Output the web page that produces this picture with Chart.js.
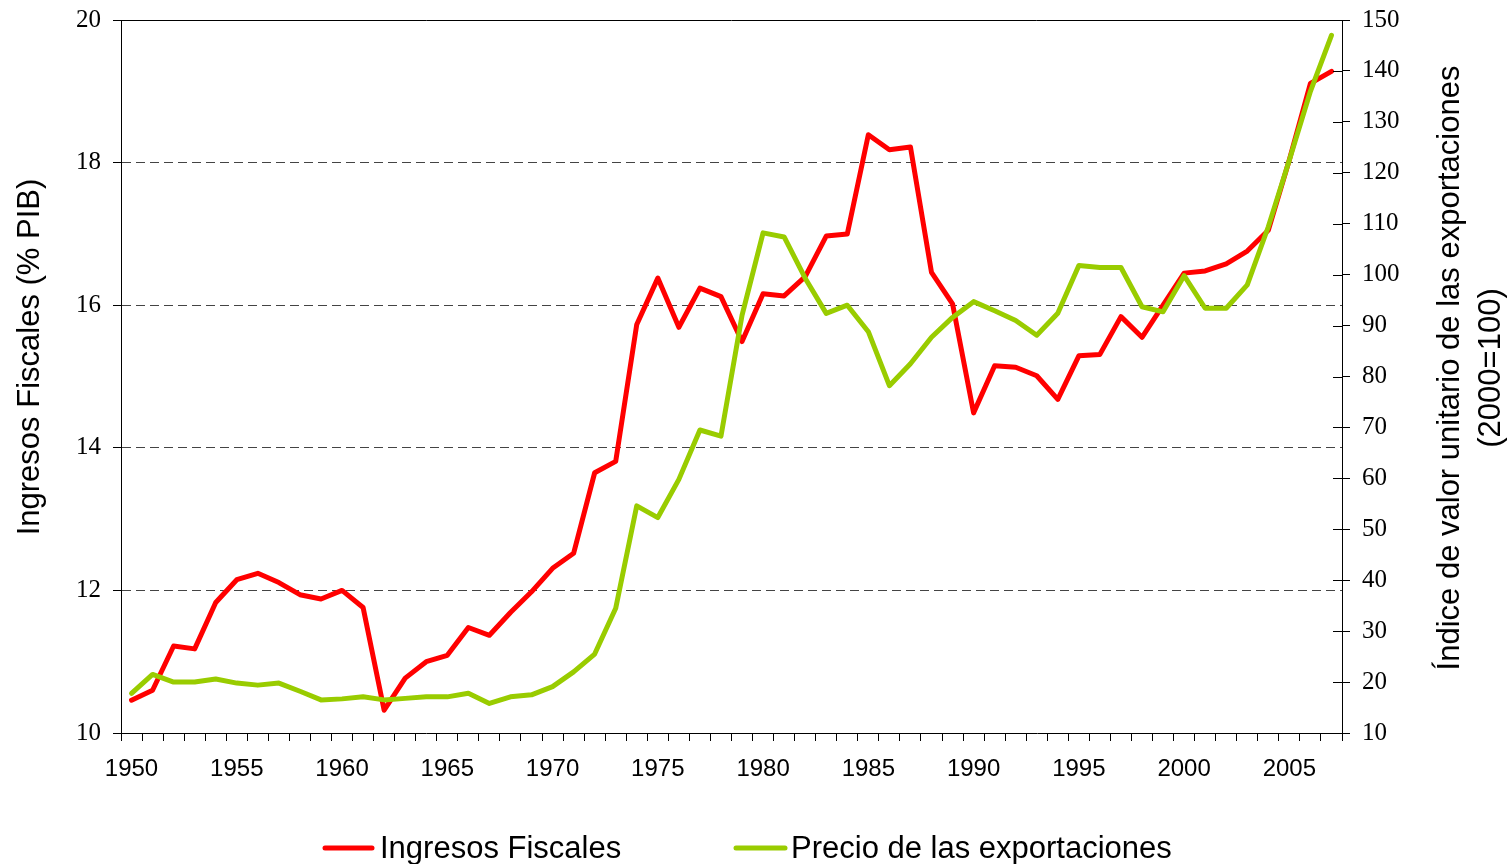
<!DOCTYPE html>
<html>
<head>
<meta charset="utf-8">
<script src="https://cdn.jsdelivr.net/npm/chart.js@4/dist/chart.umd.min.js"></script>
<style>
  html, body { margin: 0; padding: 0; background: #fff; }
  #wrap { width: 1511px; height: 864px; }
</style>
</head>
<body>
<div id="wrap"><canvas id="chart" width="1511" height="864"></canvas></div>
<script>
// 数据
const years = [1950, 1951, 1952, 1953, 1954, 1955, 1956, 1957, 1958, 1959,
    1960, 1961, 1962, 1963, 1964, 1965, 1966, 1967, 1968, 1969,
    1970, 1971, 1972, 1973, 1974, 1975, 1976, 1977, 1978, 1979,
    1980, 1981, 1982, 1983, 1984, 1985, 1986, 1987, 1988, 1989,
    1990, 1991, 1992, 1993, 1994, 1995, 1996, 1997, 1998, 1999,
    2000, 2001, 2002, 2003, 2004, 2005, 2006, 2007];

const ingresosFiscales = [10.46, 10.60, 11.22, 11.18, 11.83, 12.15, 12.24, 12.11, 11.94, 11.88,
    12.00, 11.76, 10.32, 10.77, 11.00, 11.09, 11.48, 11.37, 11.69, 11.98,
    12.31, 12.52, 13.65, 13.81, 15.73, 16.38, 15.69, 16.24, 16.12, 15.49,
    16.16, 16.13, 16.40, 16.97, 17.00, 18.39, 18.18, 18.22, 16.46, 16.02,
    14.49, 15.15, 15.13, 15.01, 14.68, 15.29, 15.31, 15.84, 15.55, 16.00,
    16.45, 16.48, 16.58, 16.76, 17.05, 18.04, 19.11, 19.28];

const precioExportaciones = [17.8, 21.5, 20.0, 20.0, 20.6, 19.8, 19.4, 19.8, 18.2, 16.5,
    16.7, 17.1, 16.5, 16.8, 17.1, 17.1, 17.8, 15.8, 17.1, 17.5,
    19.1, 22.0, 25.5, 34.5, 54.6, 52.3, 59.8, 69.5, 68.3, 92.0,
    108.2, 107.4, 99.3, 92.4, 94.0, 88.8, 78.2, 82.5, 87.7, 91.6,
    94.7, 92.9, 91.0, 88.1, 92.4, 101.8, 101.4, 101.4, 93.7, 92.7,
    99.8, 93.4, 93.4, 98.0, 109.4, 122.5, 136.0, 147.0];

const leftTicks = { min: 10, max: 20, step: 2 };
const rightTicks = { min: 10, max: 150, step: 10 };

const leftTitle = 'Ingresos Fiscales (% PIB)';
const rightTitle = ['Índice de valor unitario de las exportaciones', '(2000=100)'];

const sansFont = '"Liberation Sans", Arial, sans-serif';
const serifFont = '"Liberation Serif", "Times New Roman", serif';

// 固定坐标轴尺寸，去掉标签溢出的额外边距
function fixSize(prop, size) {
    return s => {
        s[prop] = size;
        s.paddingTop = 0;
        s.paddingBottom = 0;
        s.paddingLeft = 0;
        s.paddingRight = 0;
    };
}

// 标题、图例和边框
const extras = {
    id: 'extras',
    afterDraw(chart) {
        const { ctx, chartArea: a, scales } = chart;
        ctx.save();

        // 顶部边框
        ctx.strokeStyle = '#000';
        ctx.lineWidth = 1;
        ctx.beginPath();
        ctx.moveTo(a.left, a.top + 0.5);
        ctx.lineTo(a.right, a.top + 0.5);
        // 右轴内侧刻度
        scales.y2.ticks.forEach(t => {
            const y = Math.round(scales.y2.getPixelForValue(t.value)) + 0.5;
            ctx.moveTo(a.right - 9, y);
            ctx.lineTo(a.right, y);
        });
        ctx.stroke();

        // 轴标题
        ctx.fillStyle = '#000';
        ctx.font = '31px ' + sansFont;
        ctx.textAlign = 'center';
        ctx.textBaseline = 'middle';
        ctx.save();
        ctx.translate(30, 357);
        ctx.rotate(-Math.PI / 2);
        ctx.fillText(leftTitle, 0, 0);
        ctx.restore();
        rightTitle.forEach((line, i) => {
            ctx.save();
            ctx.translate(1450 + i * 41, 368);
            ctx.rotate(-Math.PI / 2);
            ctx.fillText(line, 0, 0);
            ctx.restore();
        });

        // 图例
        const legendY = 848;
        const items = [
            { x: 325, w: 47, tx: 380 },
            { x: 736, w: 49, tx: 791 }
        ];
        ctx.textAlign = 'left';
        chart.data.datasets.forEach((ds, i) => {
            const it = items[i];
            ctx.strokeStyle = ds.borderColor;
            ctx.lineWidth = 5;
            ctx.lineCap = 'round';
            ctx.beginPath();
            ctx.moveTo(it.x, legendY);
            ctx.lineTo(it.x + it.w, legendY);
            ctx.stroke();
            ctx.fillText(ds.label, it.tx, legendY + 1);
        });
        ctx.restore();
    }
};

const ctx = document.getElementById('chart').getContext('2d');
const chart = new Chart(ctx, {
    type: 'line',
    data: {
        labels: years,
        datasets: [{
            label: 'Ingresos Fiscales',
            data: ingresosFiscales,
            yAxisID: 'y',
            borderColor: '#FF0000',
            borderWidth: 5,
            pointRadius: 0,
            tension: 0,
            borderJoinStyle: 'round',
            borderCapStyle: 'round',
            fill: false,
            order: 1
        }, {
            label: 'Precio de las exportaciones',
            data: precioExportaciones,
            yAxisID: 'y2',
            borderColor: '#99CC00',
            borderWidth: 5,
            pointRadius: 0,
            tension: 0,
            borderJoinStyle: 'round',
            borderCapStyle: 'round',
            fill: false,
            order: 0
        }]
    },
    options: {
        responsive: false,
        animation: false,
        layout: { padding: { top: 20, left: 0, right: 0, bottom: 0 } },
        plugins: {
            legend: { display: false },
            tooltip: { enabled: false }
        },
        scales: {
            x: {
                type: 'category',
                offset: true,
                grid: {
                    offset: true,
                    drawOnChartArea: false,
                    drawTicks: true,
                    tickLength: 8,
                    color: '#000',
                    tickColor: '#000',
                    tickWidth: 1
                },
                border: { display: true, color: '#000', width: 1 },
                ticks: {
                    autoSkip: false,
                    maxRotation: 0,
                    minRotation: 0,
                    padding: 14,
                    color: '#000',
                    font: { family: sansFont, size: 24 },
                    callback: (v, i) => years[i] % 5 === 0 ? String(years[i]) : ''
                },
                afterFit: fixSize('height', 131)
            },
            y: {
                position: 'left',
                min: leftTicks.min,
                max: leftTicks.max,
                grid: {
                    drawTicks: true,
                    tickLength: 8,
                    color: c => (c.tick && (c.tick.value === leftTicks.min || c.tick.value === leftTicks.max)) ? 'rgba(0,0,0,0)' : '#444',
                    tickColor: '#000',
                    tickWidth: 1,
                    lineWidth: 1
                },
                border: { display: true, color: '#000', width: 1, dash: [9, 5] },
                ticks: {
                    stepSize: leftTicks.step,
                    padding: 12,
                    color: '#000',
                    font: { family: serifFont, size: 25 }
                },
                afterFit: fixSize('width', 121)
            },
            y2: {
                position: 'right',
                min: rightTicks.min,
                max: rightTicks.max,
                grid: {
                    drawOnChartArea: false,
                    drawTicks: true,
                    tickLength: 8,
                    color: '#000',
                    tickColor: '#000',
                    tickWidth: 1
                },
                border: { display: true, color: '#000', width: 1 },
                ticks: {
                    stepSize: rightTicks.step,
                    padding: 12,
                    color: '#000',
                    font: { family: serifFont, size: 25 }
                },
                afterFit: fixSize('width', 169)
            }
        }
    },
    plugins: [extras]
});
</script>
</body>
</html>
